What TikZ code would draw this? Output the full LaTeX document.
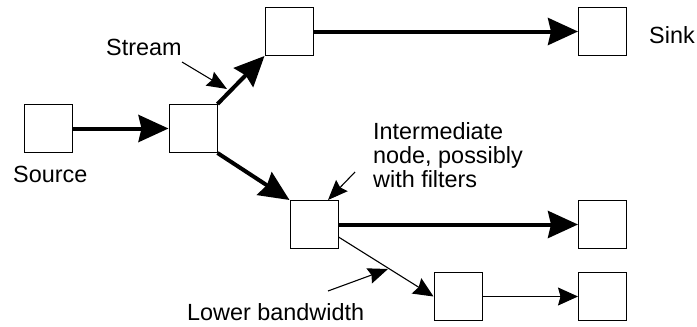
\documentclass[tikz,border=0pt]{standalone}
\usepackage{fontspec}
\setmainfont{Liberation Sans}
\usetikzlibrary{arrows.meta}
\begin{document}
\begin{tikzpicture}[x=1pt,y=-1pt,
  box/.style={draw,line width=1pt,minimum size=48pt,inner sep=0pt,fill=white},
  lbl/.style={anchor=base west,inner sep=0pt,font=\fontsize{23.4}{24}\selectfont,text=black},
  thickarrow/.style={line width=4pt,-{Stealth[length=30pt,width=27pt,inset=3pt]}},
  thinarrow/.style={line width=1.1pt,-{Stealth[length=20pt,width=18pt,inset=2.5pt]}},
  pointer/.style={line width=1.1pt,-{Stealth[length=20pt,width=16pt,inset=2.5pt]}}]
\useasboundingbox (0,0) rectangle (697,327);
% boxes
\node[box] (src)  at (48.5,128.5) {};
\node[box] (mid)  at (193,128.5) {};
\node[box] (top)  at (289,31.5) {};
\node[box] (sink) at (602.5,31.5) {};
\node[box] (inter) at (314,224.5) {};
\node[box] (r2)   at (602.5,224.5) {};
\node[box] (low)  at (458,296.5) {};
\node[box] (low2) at (602.5,296.5) {};
% labels
\node[lbl] (lstream) at (106,55) {Stream};
\node[lbl] (lsink) at (649,43) {Sink};
\node[lbl] (lsource) at (13,182) {Source};
\node[lbl] (lint1) at (373,139) {Intermediate};
\node[lbl] (lint2) at (373,163) {node, possibly};
\node[lbl] (lint3) at (373,187) {with filters};
\node[lbl] (llow) at (187,320) {Lower bandwidth};
% connectors
\draw[thickarrow] (src) -- (mid);
\draw[thickarrow] (mid.north east) -- (top.south west);
\draw[thickarrow] (top) -- (sink);
\draw[thickarrow] (mid.south east) -- (inter.north west);
\draw[thickarrow] (inter) -- (r2);
\draw[thinarrow] ([yshift=-12.5pt]inter.east) -- (low.west);
\draw[thinarrow] (low) -- (low2);
% pointers
\coordinate (ps) at (182,62);
\coordinate (pst) at (227,89);
\draw[pointer] (ps) -- (pst);
\coordinate (pi) at (355,172);
\coordinate (pit) at (328,200);
\draw[pointer] (pi) -- (pit);
\coordinate (pl) at (328,291);
\coordinate (plt) at (388,269);
\draw[pointer] (pl) -- (plt);
\end{tikzpicture}
\end{document}
